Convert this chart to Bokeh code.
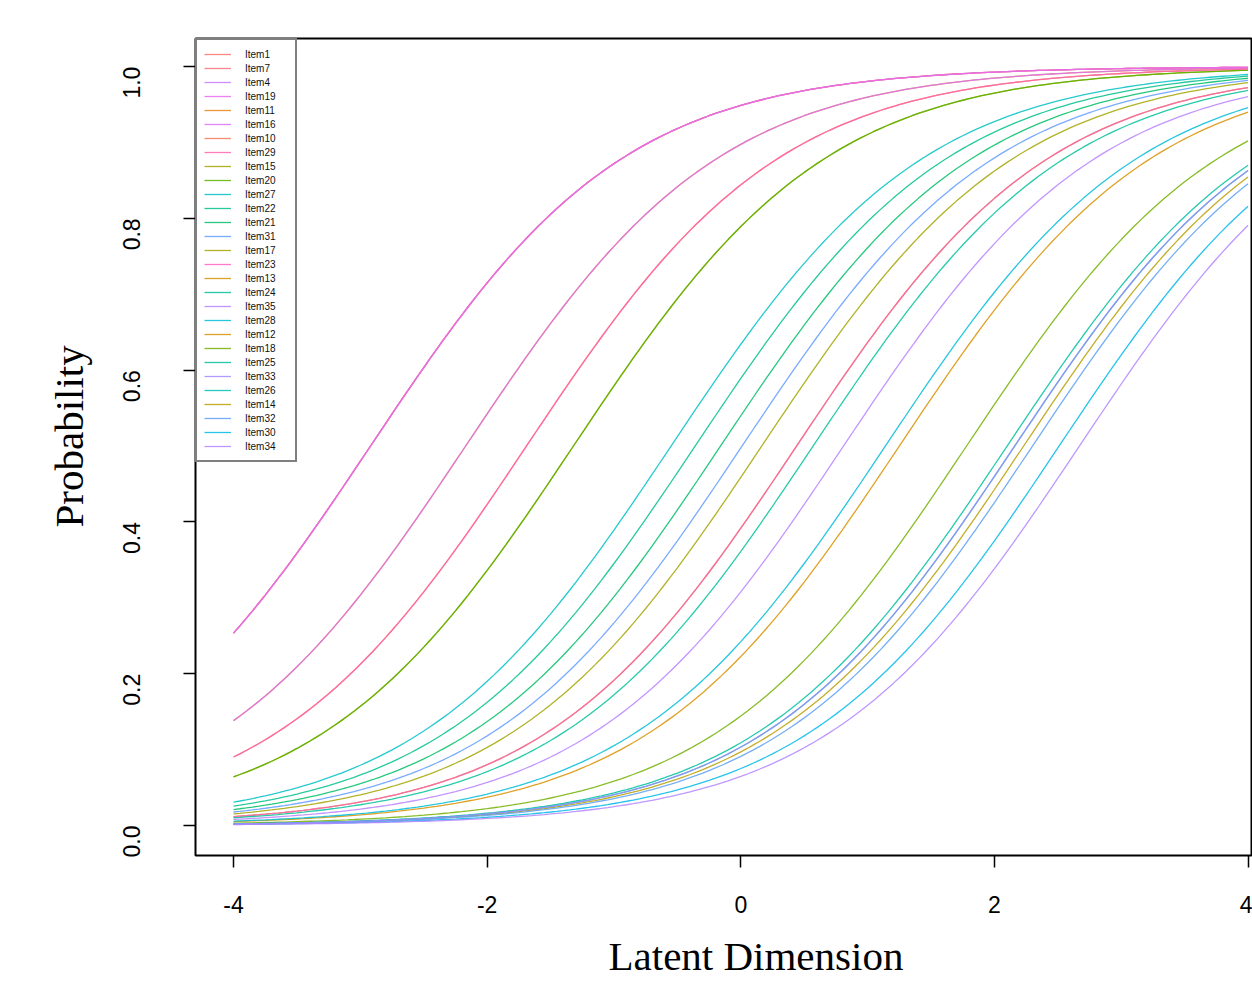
import math
import numpy as np
from bokeh.plotting import figure
from bokeh.models import Range1d, FixedTicker, Legend, LegendItem, Title, PrintfTickFormatter
from bokeh.embed import file_html
from bokeh.resources import INLINE

# ---- data (Rasch item characteristic curves) ----
items = ["Item1", "Item7", "Item4", "Item19", "Item11", "Item16", "Item10", "Item29",
         "Item15", "Item20", "Item27", "Item22", "Item21", "Item31", "Item17", "Item23",
         "Item13", "Item24", "Item35", "Item28", "Item12", "Item18", "Item25", "Item33",
         "Item26", "Item14", "Item32", "Item30", "Item34"]
difficulty = [-2.92, -2.92, -2.92, -2.92, -2.17, -2.17, -1.69, -1.69,
              -1.32, -1.32, -0.55, -0.36, -0.16, 0.01, 0.165, 0.44,
              0.44, 0.57, 0.81, 1.14, 1.25, 1.78, 2.10, 2.16,
              2.16, 2.23, 2.30, 2.51, 2.67]
discrimination = 1.0
theta_min, theta_max = -4.0, 4.0

x_ticks = [-4, -2, 0, 2, 4]
y_ticks = [0.0, 0.2, 0.4, 0.6, 0.8, 1.0]
x_title = "Latent Dimension"
y_title = "Probability"

colors = ["#F8766D", "#F9737D", "#C77CFF", "#E76BF3", "#E7861B", "#DC71FA", "#F37B59", "#FF65AC",
          "#A3A500", "#5BB300", "#00BFC4", "#00C08B", "#00BE67", "#619CFF", "#A3A500", "#FF61C3",
          "#D39200", "#00C19A", "#B983FF", "#00BCD8", "#D89000", "#72B000", "#00BFA0", "#A58AFF",
          "#00C0B5", "#B79F00", "#5DA0F5", "#00B8E7", "#B385FF"]

theta = np.linspace(theta_min, theta_max, 161)

p = figure(width=1252, height=994,
           x_range=Range1d(-4.30, 4.035), y_range=Range1d(-0.0395, 1.037),
           output_backend="svg", toolbar_location=None,
           min_border_left=195, min_border_top=38, min_border_right=0, min_border_bottom=139)

p.grid.visible = False
p.outline_line_color = "black"
p.outline_line_width = 2
p.background_fill_color = "white"
p.border_fill_color = "white"

# draw in item-number order so that later items lie on top
renderers = {}
order = sorted(range(len(items)), key=lambda i: int(items[i][4:]))
for i in order:
    prob = 1.0 / (1.0 + np.exp(-discrimination * (theta - difficulty[i])))
    r = p.line(theta, prob, line_color=colors[i], line_width=1.3, line_alpha=0.85)
    renderers[items[i]] = r

legend = Legend(items=[LegendItem(label=name, renderers=[renderers[name]]) for name in items],
                location="top_left", margin=0, padding=7, spacing=0,
                glyph_width=27, glyph_height=14, label_height=14, label_width=43,
                label_standoff=14, label_text_font_size="10px",
                label_text_font="Liberation Sans", label_text_color="#111111",
                border_line_color="black", border_line_width=2,
                background_fill_color="white", background_fill_alpha=1.0)
p.add_layout(legend)

for ax in (p.xaxis[0], p.yaxis[0]):
    ax.axis_line_color = None
    ax.major_tick_out = 12
    ax.major_tick_in = 0
    ax.minor_tick_line_color = None
    ax.major_tick_line_color = "black"
    ax.major_tick_line_width = 1.5
    ax.major_label_text_font = "Liberation Sans"
    ax.major_label_text_font_size = "23px"
    ax.major_label_text_color = "black"

p.xaxis[0].ticker = FixedTicker(ticks=x_ticks)
p.xaxis[0].formatter = PrintfTickFormatter(format="%d")
p.xaxis[0].major_label_standoff = 28
p.yaxis[0].ticker = FixedTicker(ticks=y_ticks)
p.yaxis[0].formatter = PrintfTickFormatter(format="%.1f")
p.yaxis[0].major_label_orientation = math.pi / 2
p.yaxis[0].major_label_standoff = 52

p.add_layout(Title(text=x_title, align="left", offset=413, standoff=31,
                   text_font="Liberation Serif", text_font_size="41px",
                   text_font_style="normal", text_color="black"), "below")
p.add_layout(Title(text=y_title, align="left", offset=328, standoff=40,
                   text_font="Liberation Serif", text_font_size="41px",
                   text_font_style="normal", text_color="black"), "left")

open("out.html", "w").write(file_html(p, INLINE))
